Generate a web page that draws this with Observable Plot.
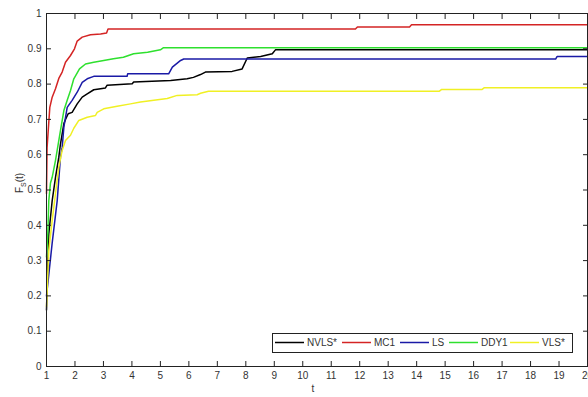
<!DOCTYPE html>
<html><head><meta charset="utf-8">
<script src="https://cdn.jsdelivr.net/npm/d3@7"></script>
<script src="https://cdn.jsdelivr.net/npm/@observablehq/plot@0.6"></script>
<style>
body{margin:0;background:#fff;}
svg text{font-family:"Liberation Sans",Arial,sans-serif;}
</style>
</head><body><div id="chart"></div>
<script>
const seriesNames = ["NVLS*", "MC1", "LS", "DDY1", "VLS*"];
const seriesColors = ["#000000", "#d42424", "#1a1aa6", "#2ee02e", "#f0f024"];

const xTicks = [1,2,3,4,5,6,7,8,9,10,11,12,13,14,15,16,17,18,19,20];
const yTicks = [0,0.1,0.2,0.3,0.4,0.5,0.6,0.7,0.8,0.9,1];

const tNVLS = [1,1.081,1.2,1.316,1.432,1.49,1.61,1.667,1.762,1.9,2.078,2.254,2.43,2.66,2.9,3.07,3.13,4.01,4.06,5.36,5.94,6.16,6.41,6.58,7.52,7.87,8.05,8.52,8.93,9.04,20];
const fNVLS = [0.16,0.376,0.47,0.536,0.593,0.63,0.688,0.7,0.716,0.72,0.744,0.763,0.772,0.784,0.787,0.789,0.797,0.801,0.806,0.81,0.815,0.819,0.827,0.834,0.836,0.843,0.874,0.878,0.886,0.897,0.897];

const tMC1 = [1,1.02,1.116,1.2,1.316,1.432,1.55,1.667,1.843,1.983,2.078,2.254,2.545,2.9,3.11,3.16,11.85,11.92,13.75,13.82,20];
const fMC1 = [0.49,0.62,0.734,0.763,0.787,0.816,0.834,0.862,0.881,0.9,0.922,0.933,0.94,0.942,0.945,0.956,0.956,0.962,0.962,0.968,0.968];

const tLS = [1,1.2,1.376,1.49,1.55,1.61,1.727,1.9,2.078,2.254,2.43,2.66,3.83,3.85,5.29,5.42,5.71,5.82,18.88,18.93,20];
const fLS = [0.2,0.35,0.47,0.593,0.62,0.678,0.734,0.754,0.777,0.805,0.815,0.822,0.822,0.829,0.829,0.848,0.867,0.871,0.871,0.878,0.878];

const tDDY1 = [1,1.046,1.081,1.14,1.2,1.316,1.49,1.61,1.727,1.843,1.959,2.159,2.37,2.66,3.01,3.35,3.7,4.06,4.55,5.0,5.11,20];
const fDDY1 = [0.31,0.377,0.47,0.52,0.536,0.584,0.668,0.725,0.754,0.782,0.815,0.843,0.857,0.862,0.867,0.872,0.876,0.886,0.89,0.897,0.903,0.903];

const tVLS = [1,1.081,1.2,1.316,1.432,1.55,1.667,1.843,1.959,2.135,2.43,2.72,2.78,3.01,3.48,3.95,4.3,4.77,5.24,5.59,6.29,6.41,6.69,14.8,14.88,16.3,16.38,20];
const fVLS = [0.17,0.33,0.414,0.49,0.565,0.612,0.64,0.655,0.675,0.697,0.706,0.711,0.72,0.73,0.737,0.744,0.749,0.754,0.759,0.768,0.77,0.774,0.78,0.78,0.785,0.785,0.79,0.79];

const seriesT = [tNVLS, tMC1, tLS, tDDY1, tVLS];
const seriesF = [fNVLS, fMC1, fLS, fDDY1, fVLS];

const rows = [];
seriesNames.forEach((name, i) => {
  seriesT[i].forEach((t, j) => rows.push({series: name, t, f: seriesF[i][j]}));
});

const W = 588, H = 397;

const chart = Plot.plot({
  width: W,
  height: H,
  marginLeft: 46,
  marginRight: 1,
  marginTop: 13,
  marginBottom: 31,
  style: {fontSize: "10px", background: "#fff", color: "#333"},
  x: {domain: [1, 20]},
  y: {domain: [0, 1]},
  color: {domain: seriesNames, range: seriesColors},
  marks: [
    Plot.line(rows, {x: "t", y: "f", z: "series", stroke: "series", strokeWidth: 1.5}),
    Plot.frame({stroke: "#222", strokeWidth: 1}),
    Plot.axisX({ticks: xTicks, tickSize: 0, tickPadding: 5, tickFormat: d => String(d), label: null, fill: "#333"}),
    Plot.axisX({ticks: xTicks, tickSize: -5, tickFormat: () => "", label: null, stroke: "#222"}),
    Plot.axisX({anchor: "top", ticks: xTicks, tickSize: -5, tickFormat: () => "", label: null, stroke: "#222"}),
    Plot.axisY({ticks: yTicks, tickSize: 0, tickPadding: 5, tickFormat: d => String(d), label: null, fill: "#333"}),
    Plot.axisY({ticks: yTicks, tickSize: -5, tickFormat: () => "", label: null, stroke: "#222"}),
    Plot.axisY({anchor: "right", ticks: yTicks, tickSize: -5, tickFormat: () => "", label: null, stroke: "#222"})
  ]
});

document.getElementById("chart").appendChild(chart);

const svg = d3.select(chart);
// axis titles
svg.append("text").attr("x", 313).attr("y", 392).attr("text-anchor", "middle")
  .attr("font-size", 10).attr("fill", "#333").text("t");
const yl = svg.append("text").attr("transform", "translate(23,183) rotate(-90)")
  .attr("text-anchor", "middle").attr("font-size", 10).attr("fill", "#333");
yl.append("tspan").text("F");
yl.append("tspan").attr("font-size", 7).attr("dy", 3).text("S");
yl.append("tspan").attr("dy", -3).text("(t)");

// legend
const lg = svg.append("g");
lg.append("rect").attr("x", 272.5).attr("y", 333.5).attr("width", 300).attr("height", 19)
  .attr("fill", "#fff").attr("stroke", "#222");
const itemStarts = [275, 342, 400, 449, 510];
seriesNames.forEach((name, i) => {
  const x0 = itemStarts[i];
  lg.append("line").attr("x1", x0).attr("x2", x0 + 29).attr("y1", 342.5).attr("y2", 342.5)
    .attr("stroke", seriesColors[i]).attr("stroke-width", 1.5);
  lg.append("text").attr("x", x0 + 32).attr("y", 346).attr("text-anchor", "start")
    .attr("font-size", 10).attr("fill", "#333").text(name);
});
</script>
</body></html>
